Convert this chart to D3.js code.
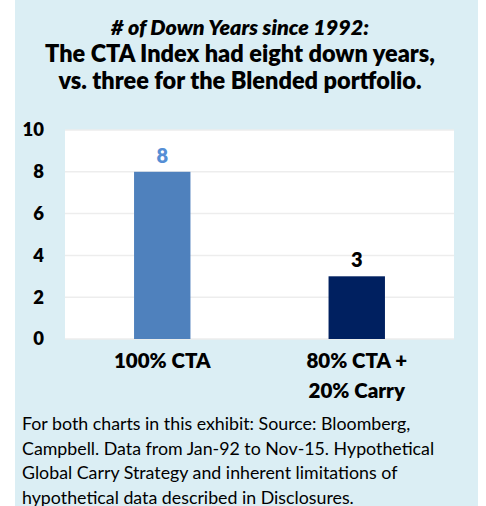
<!DOCTYPE html>
<html>
<head>
<meta charset="utf-8">
<script src="https://cdn.jsdelivr.net/npm/d3@7"></script>
<style>
  body { margin: 0; background: #fff; }
  text { font-family: Lato, "Open Sans", sans-serif; }
</style>
</head>
<body>
<div id="container"></div>
<script>
const categories = [["100% CTA"], ["80% CTA +", "20% Carry"]];
const values = [8, 3];
const barColors = ["#4F81BD", "#002060"];
const labelColors = ["#558ED5", "#000000"];
const yTicks = [0, 2, 4, 6, 8, 10];
const titleLines = ["# of Down Years since 1992:", "The CTA Index had eight down years,", "vs. three for the Blended portfolio."];
const noteLines = [
  "For both charts in this exhibit: Source: Bloomberg,",
  "Campbell. Data from Jan-92 to Nov-15. Hypothetical",
  "Global Carry Strategy and inherent limitations of",
  "hypothetical data described in Disclosures."
];

const w = 486;
const h = 506;
const plot = {left: 65, right: 454, top: 130, bottom: 339};

const svg = d3.select("#container")
              .append("svg")
              .attr("width", w)
              .attr("height", h);

// light blue panel
svg.append("rect")
   .attr("x", 15).attr("y", 0)
   .attr("width", 463).attr("height", h)
   .attr("fill", "#DBEEF4");

// title
svg.selectAll("text.title")
   .data(titleLines)
   .enter()
   .append("text")
   .attr("class", "title")
   .attr("x", 240)
   .attr("y", (d, i) => 35 + i * 27)
   .attr("text-anchor", "middle")
   .attr("font-size", (d, i) => i == 0 ? 21.5 : 23.5)
   .attr("font-weight", 800)
   .attr("font-style", (d, i) => i == 0 ? "italic" : "normal")
   .text(d => d);

// plot area
svg.append("rect")
   .attr("x", plot.left).attr("y", plot.top)
   .attr("width", plot.right - plot.left).attr("height", plot.bottom - plot.top)
   .attr("fill", "#fff");

var xScale = d3.scaleBand()
               .domain(d3.range(values.length))
               .range([plot.left, plot.right])
               .paddingInner(0.71)
               .paddingOuter(0.355);
var yScale = d3.scaleLinear()
               .domain([0, 10])
               .range([plot.bottom, plot.top]);

// gridlines
svg.append("g")
   .selectAll("line")
   .data(yTicks)
   .enter()
   .append("line")
   .attr("x1", plot.left).attr("x2", plot.right)
   .attr("y1", d => yScale(d)).attr("y2", d => yScale(d))
   .attr("stroke", "#EDEDED")
   .attr("stroke-width", 1.5);

const yAxis = d3.axisLeft(yScale).tickValues(yTicks).tickSize(0).tickPadding(0);
const gy = svg.append("g")
   .attr("transform", "translate(44,0)")
   .call(yAxis);
gy.select(".domain").remove();
gy.selectAll("text")
  .attr("font-size", 18.5)
  .attr("font-weight", 800)
  .attr("font-family", "Lato, sans-serif")
  .attr("fill", "#000");

// bars
svg.selectAll("rect.bar")
   .data(values)
   .enter()
   .append("rect")
   .attr("class", "bar")
   .attr("x", (d, i) => xScale(i))
   .attr("y", d => yScale(d))
   .attr("width", xScale.bandwidth())
   .attr("height", d => yScale(0) - yScale(d))
   .attr("fill", (d, i) => barColors[i]);

// value labels
svg.selectAll("text.value")
   .data(values)
   .enter()
   .append("text")
   .attr("class", "value")
   .attr("x", (d, i) => xScale(i) + xScale.bandwidth() / 2)
   .attr("y", d => yScale(d) - 9)
   .attr("text-anchor", "middle")
   .attr("font-size", 20)
   .attr("font-weight", 800)
   .attr("fill", (d, i) => labelColors[i])
   .text(d => d);

// category labels
categories.forEach((lines, i) => {
  svg.append("text")
     .attr("x", xScale(i) + xScale.bandwidth() / 2)
     .attr("y", 368)
     .attr("text-anchor", "middle")
     .attr("font-size", 20.5)
     .attr("font-weight", 800)
     .selectAll("tspan")
     .data(lines)
     .enter()
     .append("tspan")
     .attr("x", xScale(i) + xScale.bandwidth() / 2)
     .attr("dy", (d, j) => j == 0 ? 0 : 30)
     .text(d => d);
});

// footnote
svg.selectAll("text.note")
   .data(noteLines)
   .enter()
   .append("text")
   .attr("class", "note")
   .attr("x", 22)
   .attr("y", (d, i) => 430 + i * 24.5)
   .attr("font-size", 17.8)
   .text(d => d);
</script>
</body>
</html>
